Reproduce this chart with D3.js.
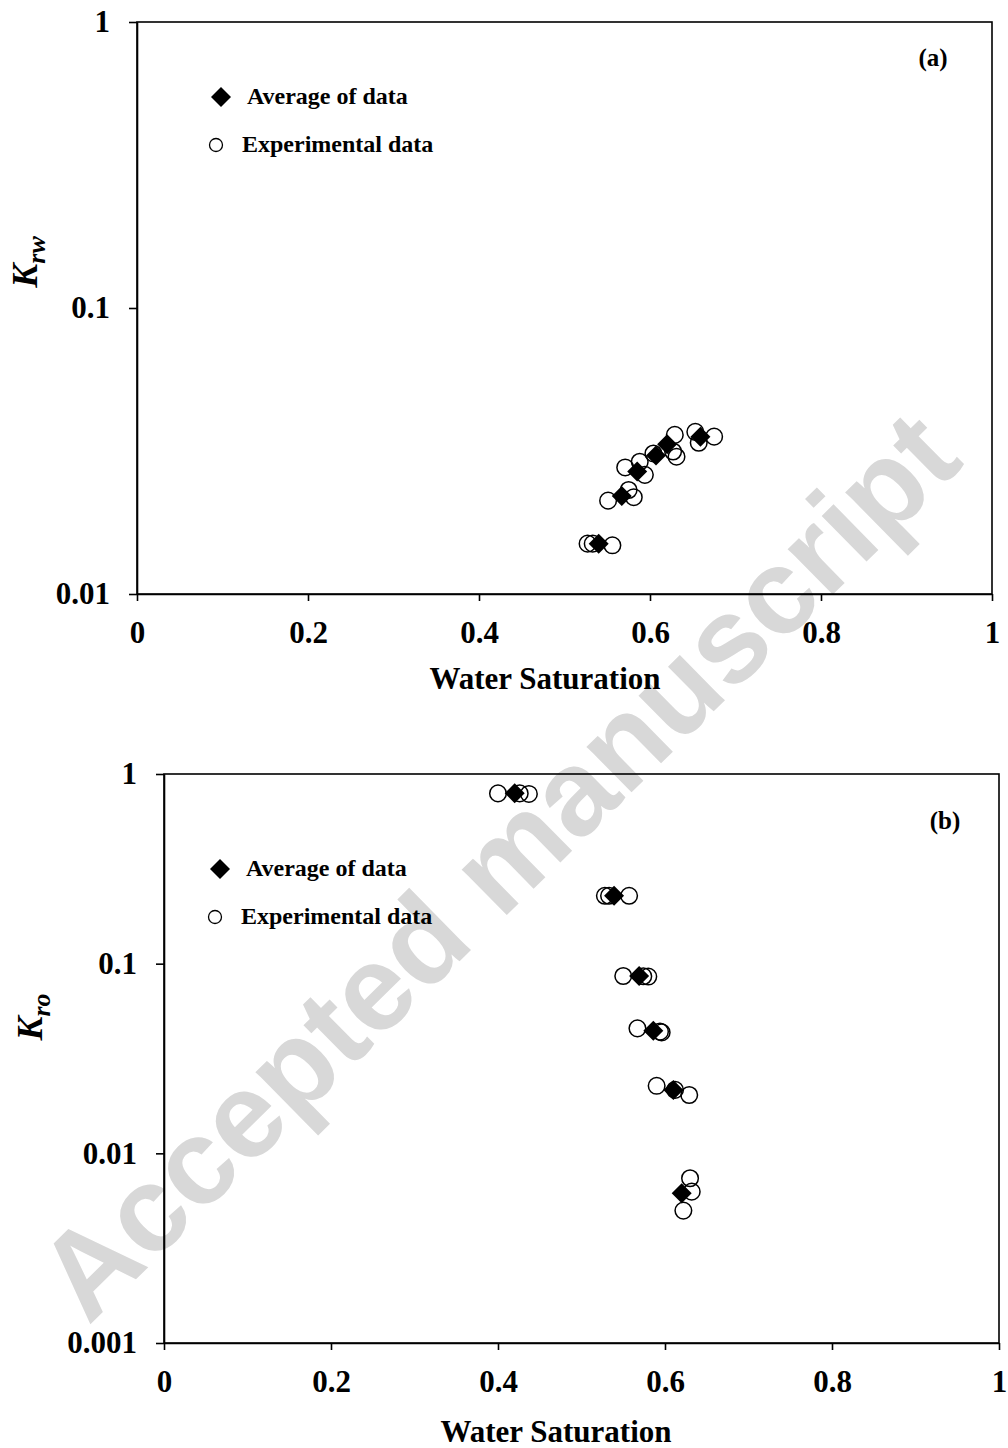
<!DOCTYPE html>
<html lang="en">
<head>
<meta charset="UTF-8">
<title>Relative permeability vs water saturation</title>
<script src="https://d3js.org/d3.v7.min.js"></script>
<style>
  body { margin: 0; background: #fff; }
  svg { display: block; font-family: "Liberation Serif", "Times New Roman", serif; }
  .tick text { font-family: "Liberation Serif", "Times New Roman", serif; font-size: 31px; font-weight: bold; fill: #000; }
  .tick line, .domain { stroke: #000; stroke-width: 1.6; }
</style>
</head>
<body>
<svg id="chart" width="1008" height="1448"></svg>
<script>
// x axis ticks (shared)
const xTicks = [0, 0.2, 0.4, 0.6, 0.8, 1];
const xTickLabels = ["0", "0.2", "0.4", "0.6", "0.8", "1"];

// panel (a) - Krw
const aYTicks = [0.01, 0.1, 1];
const aYTickLabels = ["0.01", "0.1", "1"];
const aAvgSw = [0.540, 0.567, 0.585, 0.607, 0.620, 0.659];
const aAvgK = [0.0150, 0.0220, 0.0268, 0.0305, 0.0334, 0.0355];
const aExpSw = [0.527, 0.533, 0.556, 0.551, 0.575, 0.581, 0.571, 0.588, 0.594, 0.604, 0.627, 0.631, 0.629, 0.653, 0.675, 0.657];
const aExpK = [0.0150, 0.0150, 0.0148, 0.0212, 0.0231, 0.0218, 0.0277, 0.0290, 0.0261, 0.0310, 0.0315, 0.0302, 0.0360, 0.0369, 0.0355, 0.0338];

// panel (b) - Kro
const bYTicks = [0.001, 0.01, 0.1, 1];
const bYTickLabels = ["0.001", "0.01", "0.1", "1"];
const bAvgSw = [0.420, 0.539, 0.569, 0.586, 0.610, 0.620];
const bAvgK = [0.791, 0.228, 0.0861, 0.0443, 0.0216, 0.00616];
const bExpSw = [0.400, 0.426, 0.437, 0.528, 0.533, 0.557, 0.550, 0.574, 0.580, 0.567, 0.594, 0.596, 0.590, 0.612, 0.629, 0.630, 0.632, 0.622];
const bExpK = [0.790, 0.790, 0.785, 0.228, 0.228, 0.228, 0.0861, 0.0858, 0.0855, 0.0456, 0.0438, 0.0434, 0.0227, 0.0216, 0.0203, 0.00739, 0.00628, 0.00499];

const legendLabels = ["Average of data", "Experimental data"];

const svg = d3.select("#chart");
svg.append("rect").attr("width", 1008).attr("height", 1448).attr("fill", "#fff");

// watermark sits behind the charts
svg.append("text")
  .attr("transform", "translate(527,895) rotate(-44.5)")
  .attr("text-anchor", "middle")
  .style("font-family", "'Liberation Sans', Arial, sans-serif")
  .style("font-weight", "bold")
  .style("font-size", "121px")
  .attr("fill", "#d8d8d8")
  .text("Accepted manuscript");

const diamond = d3.symbol(d3.symbolDiamond2, 255);

function drawPanel(p) {
  const x = d3.scaleLinear().domain([0, 1]).range([p.left, p.right]);
  const y = d3.scaleLog().domain([p.yTicks[0], 1]).range([p.bottom, p.top]);
  const g = svg.append("g");

  g.append("rect")
    .attr("x", p.left).attr("y", p.top)
    .attr("width", p.right - p.left).attr("height", p.bottom - p.top)
    .attr("fill", "none").attr("stroke", "#000").attr("stroke-width", 1.6);

  g.append("g")
    .attr("transform", `translate(0,${p.bottom})`)
    .call(d3.axisBottom(x).tickValues(xTicks).tickSize(7).tickSizeOuter(0).tickPadding(20)
      .tickFormat((d, i) => xTickLabels[i]))
    .attr("font-family", null).attr("font-size", null);

  g.append("g")
    .attr("transform", `translate(${p.left},0)`)
    .call(d3.axisLeft(y).tickValues(p.yTicks).tickSize(8).tickSizeOuter(0).tickPadding(19)
      .tickFormat((d, i) => p.yTickLabels[i]))
    .attr("font-family", null).attr("font-size", null);

  // x title
  g.append("text")
    .attr("x", p.xTitleX).attr("y", p.xTitleY)
    .attr("text-anchor", "middle")
    .style("font-size", "31px").style("font-weight", "bold")
    .text("Water Saturation");

  // y title K with subscript
  const yt = g.append("text")
    .attr("transform", `translate(${p.yTitleX},${p.yTitleY}) rotate(-90)`)
    .attr("text-anchor", "middle")
    .style("font-weight", "bold").style("font-style", "italic");
  yt.append("tspan").style("font-size", "36px").text("K");
  yt.append("tspan").style("font-size", "26px").attr("dy", 8).text(p.sub);

  // panel tag
  g.append("text")
    .attr("x", p.tagX).attr("y", p.tagY)
    .attr("text-anchor", "middle")
    .style("font-size", "25px").style("font-weight", "bold")
    .text(p.tag);

  // averages (diamonds) then experimental (circles)
  g.selectAll(".avg").data(d3.zip(p.avgSw, p.avgK)).join("path")
    .attr("class", "avg")
    .attr("d", diamond)
    .attr("transform", d => `translate(${x(d[0])},${y(d[1])})`)
    .attr("fill", "#000");

  g.selectAll(".exp").data(d3.zip(p.expSw, p.expK)).join("circle")
    .attr("class", "exp")
    .attr("cx", d => x(d[0])).attr("cy", d => y(d[1]))
    .attr("r", 8.3)
    .attr("fill", "none").attr("stroke", "#000").attr("stroke-width", 1.5);

  // legend
  const lg = g.append("g");
  lg.append("path").attr("d", diamond)
    .attr("transform", `translate(${p.legX + 5},${p.legY})`).attr("fill", "#000");
  lg.append("text").attr("x", p.legX + 31).attr("y", p.legY + 7)
    .style("font-size", "24px").style("font-weight", "bold").text(legendLabels[0]);
  lg.append("circle").attr("cx", p.legX).attr("cy", p.legY + 48).attr("r", 6.5)
    .attr("fill", "none").attr("stroke", "#000").attr("stroke-width", 1.3);
  lg.append("text").attr("x", p.legX + 26).attr("y", p.legY + 55)
    .style("font-size", "24px").style("font-weight", "bold").text(legendLabels[1]);
}

drawPanel({
  left: 137, right: 992, top: 22, bottom: 594,
  yTicks: aYTicks, yTickLabels: aYTickLabels,
  avgSw: aAvgSw, avgK: aAvgK, expSw: aExpSw, expK: aExpK,
  sub: "rw", yTitleX: 37, yTitleY: 262,
  xTitleX: 545, xTitleY: 689,
  tag: "(a)", tagX: 933, tagY: 66,
  legX: 216, legY: 97
});

drawPanel({
  left: 164, right: 999, top: 774, bottom: 1343,
  yTicks: bYTicks, yTickLabels: bYTickLabels,
  avgSw: bAvgSw, avgK: bAvgK, expSw: bExpSw, expK: bExpK,
  sub: "ro", yTitleX: 42, yTitleY: 1017,
  xTitleX: 556, xTitleY: 1442,
  tag: "(b)", tagX: 945, tagY: 829,
  legX: 215, legY: 869
});
</script>
</body>
</html>
